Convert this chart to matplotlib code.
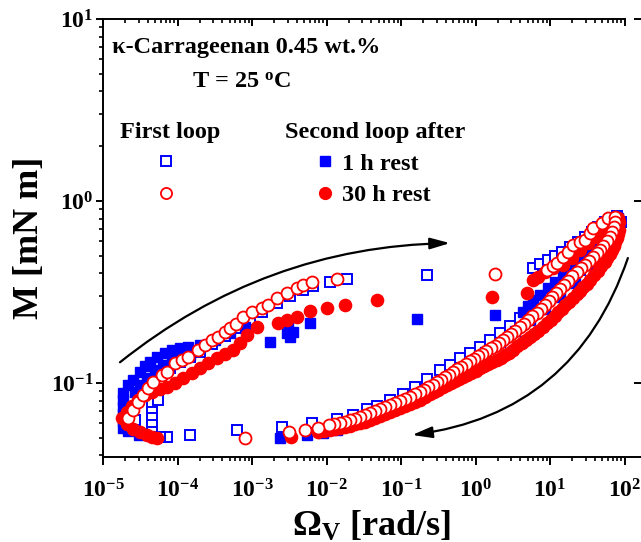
import matplotlib
matplotlib.use('Agg')
import numpy as np
import matplotlib.pyplot as plt
from matplotlib.ticker import LogLocator, FuncFormatter, NullFormatter, NullLocator
from matplotlib.lines import Line2D

plt.rcParams['font.family'] = 'Liberation Serif'
plt.rcParams['font.weight'] = 'bold'
plt.rcParams['axes.labelweight'] = 'bold'
plt.rcParams['mathtext.fontset'] = 'custom'
plt.rcParams['mathtext.rm'] = 'Liberation Serif:bold'
plt.rcParams['mathtext.it'] = 'Liberation Serif:bold'
plt.rcParams['mathtext.bf'] = 'Liberation Serif:bold'

# first loop, 1 h sample (open squares): ramp up, then ramp down
w_first_1h_up = [2.69e-5, 3.14e-5, 3.66e-5, 4.27e-5, 4.55e-5, 4.55e-5, 4.55e-5, 4.55e-5, 4.55e-5,
                 5.47e-5, 5.82e-5, 7.93e-5, 1.08e-4, 1.47e-4, 2.00e-4, 2.90e-4, 4.35e-4, 6.29e-4,
                 9.40e-4, 1.36e-3, 2.17e-3, 3.24e-3, 4.84e-3, 6.59e-3, 1.11e-2, 1.88e-2, 0.223,
                 5.92, 7.35, 9.40, 11.7, 14.5, 18.5, 23.8, 29.5, 36.6, 44.1, 54.7, 67.9, 79.3]
m_first_1h_up = [0.0626, 0.0859, 0.0939, 0.101, 0.0777, 0.0693, 0.0642, 0.0588, 0.0538,
                 0.0807, 0.111, 0.121, 0.130, 0.139, 0.148, 0.164, 0.181, 0.200,
                 0.222, 0.246, 0.275, 0.301, 0.324, 0.341, 0.359, 0.372, 0.392,
                 0.428, 0.451, 0.474, 0.499, 0.525, 0.559, 0.595, 0.634, 0.676, 0.719, 0.767, 0.807, 0.828]
w_first_1h_down = [89.7, 76.9, 63.9, 51.4, 40.2, 31.4, 25.3, 19.7, 14.9, 11.7, 9.12, 7.35, 5.39,
                   3.95, 2.90, 2.13, 1.57, 1.15, 0.843, 0.619, 0.455, 0.333, 0.223, 0.154, 0.106,
                   0.0711, 0.0477, 0.0350, 0.0227, 0.0138, 6.39e-3, 2.53e-3, 6.29e-4, 1.47e-4,
                   7.23e-5, 5.82e-5]
m_first_1h_down = [0.767, 0.676, 0.610, 0.552, 0.499, 0.456, 0.418, 0.382, 0.354, 0.324, 0.297, 0.275, 0.249,
                   0.228, 0.206, 0.188, 0.172, 0.158, 0.146, 0.137, 0.126, 0.118, 0.105, 0.0950, 0.0870,
                   0.0807, 0.0748, 0.0720, 0.0667, 0.0634, 0.0603, 0.0573, 0.0552, 0.0518,
                   0.0505, 0.0505]

# second loop after 1 h rest (filled squares)
w_second_1h_up = [1.85e-5, 1.85e-5, 1.85e-5, 1.85e-5, 1.85e-5, 1.85e-5,
                  2.17e-5, 2.53e-5, 3.14e-5, 3.66e-5, 4.27e-5, 5.31e-5, 6.79e-5, 8.43e-5, 1.08e-4,
                  1.38e-4, 2.00e-4, 3.18e-4, 5.07e-4, 8.05e-4,
                  2.69e-5, 3.14e-5, 3.90e-5, 4.99e-5, 6.38e-5, 8.43e-5, 1.08e-4, 1.47e-4,
                  1.75e-3, 2.95e-3, 3.24e-3, 3.55e-3, 3.04e-3, 6.01e-3, 0.164, 1.83,
                  4.34, 5.07, 5.92, 7.35, 9.40, 11.7, 14.9, 18.5, 23.8, 29.5, 36.6, 46.9, 58.2, 70.1, 81.8,
                  2.17e-5, 3.04e-5]
m_second_1h_up = [0.0881, 0.0807, 0.0738, 0.0676, 0.0618, 0.0566,
                  0.0975, 0.104, 0.115, 0.124, 0.130, 0.139, 0.146, 0.152, 0.156,
                  0.158, 0.162, 0.172, 0.188, 0.203,
                  0.0893, 0.0975, 0.106, 0.118, 0.126, 0.134, 0.139, 0.143,
                  0.168, 0.188, 0.179, 0.191, 0.203, 0.214, 0.225, 0.237,
                  0.246, 0.265, 0.286, 0.305, 0.332, 0.359, 0.392, 0.428, 0.474, 0.518, 0.573, 0.634, 0.702, 0.767, 0.807,
                  0.0545, 0.0518]
w_second_1h_down = [79.3, 54.7, 34.4, 21.7, 13.6, 8.58, 5.39, 3.39, 2.13, 1.34, 0.843, 0.531, 0.333,
                    0.210, 0.132, 0.0830, 0.0523, 0.0329, 0.0207, 0.0138, 8.98e-3, 5.47e-3, 2.38e-3]
m_second_1h_down = [0.738, 0.573, 0.445, 0.354, 0.297, 0.255, 0.222, 0.193, 0.168, 0.148, 0.130, 0.115, 0.102,
                    0.0916, 0.0827, 0.0757, 0.0702, 0.0650, 0.0611, 0.0552, 0.0531, 0.0518, 0.0499]

# first loop, 30 h sample (open circles)
w_first_30h_up = [2.17e-5, 2.53e-5, 2.95e-5, 3.45e-5, 4.02e-5, 4.69e-5, 6.19e-5, 7.23e-5, 9.25e-5,
                  1.15e-4, 1.38e-4, 1.88e-4, 2.34e-4, 2.90e-4, 3.50e-4, 4.35e-4, 5.07e-4, 6.10e-4,
                  7.57e-4, 1.00e-3, 1.36e-3, 1.64e-3, 2.17e-3, 2.95e-3, 4.02e-3, 4.84e-3, 6.39e-3, 1.38e-2,
                  1.83, 9.12, 11.0, 12.4, 14.9, 17.4, 20.4, 25.3, 29.5, 34.4, 37.8, 49.9, 60.1, 74.5]
m_first_30h_up = [0.0642, 0.0711, 0.0787, 0.0859, 0.0939, 0.101, 0.111, 0.115, 0.129,
                  0.134, 0.139, 0.152, 0.162, 0.172, 0.179, 0.191, 0.200, 0.211,
                  0.231, 0.246, 0.258, 0.268, 0.293, 0.312, 0.332, 0.345, 0.359, 0.372,
                  0.397, 0.418, 0.440, 0.456, 0.492, 0.525, 0.573, 0.595, 0.610, 0.667, 0.711, 0.757, 0.807, 0.817]
w_first_30h_down = [74.5, 71.2, 67.9, 62.9, 58.2, 52.2, 46.9, 42.1, 37.8, 33.4, 29.5, 26.1, 23.0, 20.0,
                    17.4, 15.4, 13.6, 12.0, 10.6, 9.55, 8.58, 7.57, 6.70, 5.82, 5.07, 4.48, 3.95, 3.44,
                    3.00, 2.65, 2.34, 2.07, 1.83, 1.59, 1.38, 1.22, 1.08, 0.955, 0.843, 0.734, 0.639,
                    0.565, 0.499, 0.441, 0.390, 0.344, 0.304, 0.265, 0.230, 0.204, 0.180, 0.154, 0.132,
                    0.113, 0.0970, 0.0831, 0.0711, 0.0610, 0.0523, 0.0448, 0.0384, 0.0329, 0.0282,
                    0.0241, 0.0207, 0.0177, 0.0152, 0.0128, 0.0108, 7.69e-3, 5.14e-3, 3.14e-3, 8.05e-4]
m_first_30h_down = [0.767, 0.720, 0.676, 0.638, 0.603, 0.569, 0.538, 0.515, 0.492, 0.468, 0.445, 0.426, 0.407, 0.385,
                    0.363, 0.345, 0.328, 0.312, 0.297, 0.282, 0.268, 0.255, 0.243, 0.232, 0.222, 0.212, 0.203, 0.194,
                    0.186, 0.179, 0.172, 0.166, 0.160, 0.155, 0.150, 0.145, 0.141, 0.136, 0.132, 0.127, 0.122,
                    0.119, 0.115, 0.111, 0.108, 0.1045, 0.101, 0.0981, 0.0950, 0.0921, 0.0893, 0.0865, 0.0838,
                    0.0817, 0.0797, 0.0776, 0.0757, 0.0738, 0.0720, 0.0702, 0.0684, 0.0667, 0.0650,
                    0.0638, 0.0626, 0.0614, 0.0603, 0.0595, 0.0588, 0.0566, 0.0552, 0.0538, 0.0499]

# second loop after 30 h rest (filled circles)
w_second_30h_up = [1.80e-5, 2.10e-5, 2.45e-5, 2.95e-5, 3.66e-5, 4.55e-5, 5.82e-5, 7.23e-5, 9.25e-5,
                   1.19e-4, 1.57e-4, 2.00e-4, 2.57e-4, 3.39e-4, 4.35e-4, 5.56e-4, 6.90e-4, 8.57e-4,
                   1.17e-3, 2.23e-3, 2.95e-3, 4.02e-3, 6.01e-3, 1.02e-2, 1.77e-2, 4.77e-2, 1.66,
                   4.91, 5.92, 6.91, 8.58, 11.0, 14.9, 19.7, 25.3, 32.4, 40.2, 49.9, 60.1, 72.3, 81.8,
                   2.10e-5, 2.53e-5, 3.14e-5, 3.90e-5, 4.55e-5]
m_second_30h_up = [0.0642, 0.0693, 0.0748, 0.0807, 0.0859, 0.0893, 0.0927, 0.0950, 0.100,
                   0.106, 0.113, 0.121, 0.129, 0.137, 0.144, 0.152, 0.166, 0.184,
                   0.203, 0.214, 0.222, 0.231, 0.249, 0.258, 0.268, 0.286, 0.297,
                   0.312, 0.368, 0.382, 0.407, 0.428, 0.445, 0.486, 0.538, 0.588, 0.634, 0.693, 0.738, 0.787, 0.807,
                   0.0596, 0.0559, 0.0538, 0.0518, 0.0505]
w_second_30h_down = [84.4, 84.4, 81.8, 79.3, 75.7, 72.3, 67.9, 63.9, 59.1, 54.7, 49.1, 44.1, 39.0, 34.4,
                     30.9, 27.7, 25.3, 23.0, 20.4, 18.0, 16.1, 14.5, 13.0, 11.7, 10.3, 9.12, 7.93, 6.91,
                     6.10, 5.39, 4.76, 4.21, 3.66, 3.19, 2.82, 2.49, 2.20, 1.94, 1.69, 1.47, 1.30, 1.15,
                     1.00, 0.870, 0.769, 0.679, 0.601, 0.531, 0.469, 0.414, 0.361, 0.314, 0.277, 0.245,
                     0.210, 0.180, 0.154, 0.132, 0.113, 0.0970, 0.0831, 0.0711, 0.0610, 0.0523, 0.0448,
                     0.0384, 0.0329, 0.0282, 0.0241, 0.0207, 0.0177, 0.0152, 0.0130, 0.0111, 9.26e-3,
                     7.69e-3, 3.34e-3, 5.31e-5]
m_second_30h_down = [0.767, 0.693, 0.659, 0.626, 0.595, 0.566, 0.538, 0.512, 0.486, 0.462, 0.437, 0.412, 0.390, 0.368,
                     0.352, 0.337, 0.322, 0.308, 0.293, 0.279, 0.267, 0.255, 0.244, 0.233, 0.223, 0.214, 0.203, 0.193,
                     0.186, 0.179, 0.172, 0.166, 0.159, 0.152, 0.147, 0.143, 0.138, 0.134, 0.130, 0.127, 0.124, 0.121,
                     0.117, 0.113, 0.111, 0.108, 0.105, 0.102, 0.100, 0.0975, 0.0945, 0.0916, 0.0892, 0.0870,
                     0.0838, 0.0807, 0.0787, 0.0767, 0.0747, 0.0729, 0.0710, 0.0693, 0.0676, 0.0659, 0.0642,
                     0.0626, 0.0614, 0.0603, 0.0592, 0.0581, 0.0573, 0.0566, 0.0559, 0.0552, 0.0545,
                     0.0538, 0.0505, 0.0499]

BLUE = '#0000ff'
RED = '#ff0000'

fig = plt.figure(figsize=(6.41, 5.42), dpi=100)
ax = fig.add_axes([0.1607, 0.1568, 0.8393, 0.8081])
ax.set_xscale('log')
ax.set_yscale('log')
xlim = (1e-5, 166.5)
ylim = (0.0392, 10)
ax.set_xlim(xlim)
ax.set_ylim(ylim)

ax.plot(w_first_1h_up + w_first_1h_down, m_first_1h_up + m_first_1h_down,
        ls='none', marker='s', ms=7, mfc='white', mec=BLUE, mew=1.4)
ax.plot(w_second_1h_up + w_second_1h_down, m_second_1h_up + m_second_1h_down,
        ls='none', marker='s', ms=7, mfc=BLUE, mec=BLUE, mew=1.0)
ax.plot(w_second_30h_up + w_second_30h_down, m_second_30h_up + m_second_30h_down,
        ls='none', marker='o', ms=8.8, mfc=RED, mec=RED, mew=1.0)
ax.plot(w_first_30h_up + w_first_30h_down, m_first_30h_up + m_first_30h_down,
        ls='none', marker='o', ms=8.6, mfc='white', mec=RED, mew=1.3)

# direction arrows
ax.annotate('', xy=(0.455, 0.587), xytext=(1.69e-5, 0.130),
            arrowprops=dict(arrowstyle='-|>,head_length=0.6,head_width=0.17',
                            connectionstyle='arc3,rad=-0.17', color='black',
                            lw=1.6, mutation_scale=20, shrinkA=0, shrinkB=0))
ax.annotate('', xy=(0.141, 0.0518), xytext=(111, 0.486),
            arrowprops=dict(arrowstyle='-|>,head_length=0.6,head_width=0.17',
                            connectionstyle='arc3,rad=-0.31', color='black',
                            lw=1.6, mutation_scale=20, shrinkA=0, shrinkB=0))

# axes styling
for s in ['left', 'bottom']:
    ax.spines[s].set_linewidth(1.4)
ax.spines['top'].set_visible(False)
ax.spines['right'].set_visible(False)

fmt = FuncFormatter(lambda v, p: r'$10^{%d}$' % int(round(np.log10(v))))
ax.xaxis.set_major_locator(LogLocator(base=10, numticks=20))
ax.xaxis.set_minor_locator(LogLocator(base=10, subs=np.arange(2, 10), numticks=20))
ax.yaxis.set_major_locator(LogLocator(base=10, numticks=20))
ax.yaxis.set_minor_locator(LogLocator(base=10, subs=np.arange(2, 10), numticks=20))
ax.xaxis.set_major_formatter(fmt)
ax.yaxis.set_major_formatter(fmt)
ax.xaxis.set_minor_formatter(NullFormatter())
ax.yaxis.set_minor_formatter(NullFormatter())
ax.tick_params(which='major', direction='out', length=5, width=1.4, labelsize=17)
ax.tick_params(which='minor', direction='out', length=3, width=1.2)
ax.tick_params(axis='x', which='major', length=6, pad=10)
ax.tick_params(axis='y', which='major', pad=2)

# top axis: inward ticks, spine only up to 10^2
ax_top = ax.twiny()
ax_top.set_xscale('log')
ax_top.set_xlim(xlim)
for s in ['left', 'right', 'bottom']:
    ax_top.spines[s].set_visible(False)
ax_top.spines['top'].set_linewidth(1.4)
ax_top.spines['top'].set_bounds(1e-5, 100)
ax_top.xaxis.set_major_locator(LogLocator(base=10, numticks=20))
ax_top.xaxis.set_minor_locator(LogLocator(base=10, subs=np.arange(2, 10), numticks=20))
ax_top.xaxis.set_major_formatter(NullFormatter())
ax_top.xaxis.set_minor_formatter(NullFormatter())
ax_top.tick_params(axis='x', which='major', direction='in', length=5, width=1.4)
ax_top.tick_params(axis='x', which='minor', direction='in', length=3, width=1.2)

# right axis: inward major ticks only
ax_r = ax.twinx()
ax_r.set_yscale('log')
ax_r.set_ylim(ylim)
for s in ['left', 'right', 'bottom', 'top']:
    ax_r.spines[s].set_visible(False)
ax_r.yaxis.set_major_locator(LogLocator(base=10, numticks=20))
ax_r.yaxis.set_minor_locator(NullLocator())
ax_r.yaxis.set_major_formatter(NullFormatter())
ax_r.tick_params(axis='y', which='major', direction='in', length=5, width=1.4)

ax.set_xlabel('Ω$_\\mathrm{V}$ [rad/s]', fontsize=26, labelpad=5)
ax.set_ylabel('M [mN m]', fontsize=26, labelpad=3)

ax.text(0.0167, 0.936, 'κ-Carrageenan 0.45 wt.%', transform=ax.transAxes,
        fontsize=17.5, va='center', ha='left')
ax.text(0.1654, 0.856, 'T = 25 $^\\mathrm{o}$C', transform=ax.transAxes,
        fontsize=17.5, va='center', ha='left')
ax.text(0.0316, 0.742, 'First loop', transform=ax.transAxes,
        fontsize=17.5, va='center', ha='left')
ax.text(0.3383, 0.742, 'Second loop after', transform=ax.transAxes,
        fontsize=17.5, va='center', ha='left')

h_sq_open = Line2D([], [], ls='none', marker='s', ms=7, mfc='white', mec=BLUE, mew=1.4)
h_ci_open = Line2D([], [], ls='none', marker='o', ms=8, mfc='white', mec=RED, mew=1.3)
h_sq = Line2D([], [], ls='none', marker='s', ms=7, mfc=BLUE, mec=BLUE)
h_ci = Line2D([], [], ls='none', marker='o', ms=8.5, mfc=RED, mec=RED)
leg_kw = dict(loc='upper left', frameon=False, prop={'size': 17.5, 'weight': 'bold'},
              handlelength=1.0, handletextpad=0.2, borderpad=0, borderaxespad=0,
              labelspacing=0.4)
leg1 = ax.legend(handles=[h_sq_open, h_ci_open], labels=[' ', ' '],
                 bbox_to_anchor=(0.0948, 0.695), **leg_kw)
ax.add_artist(leg1)
ax.legend(handles=[h_sq, h_ci], labels=['1 h rest', '30 h rest'],
          bbox_to_anchor=(0.3903, 0.695), **leg_kw)

fig.savefig('out.png', dpi=100)
